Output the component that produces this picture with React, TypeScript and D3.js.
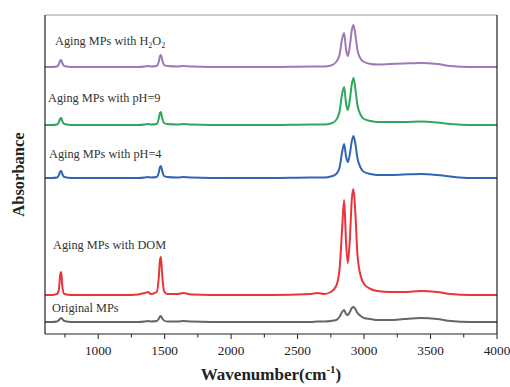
import React from 'react';
import * as d3 from 'd3';

// FTIR spectra, stacked with vertical offsets
const wavenumbers = [
  600, 650, 690, 705, 715, 722, 730, 745, 800,
  1000, 1200, 1300, 1350, 1375, 1395, 1440, 1455, 1465, 1472,
  1480, 1495, 1520, 1600, 1640, 1700,
  2000, 2300, 2600, 2650, 2700, 2750, 2790, 2815, 2835, 2850,
  2865, 2878, 2893, 2908, 2920, 2935, 2950, 2975, 3000, 3050,
  3100, 3200, 3300, 3430, 3550, 3650, 3800, 4000,
];

const originalMPs = [
  0.12, 0.12, 0.125, 0.14, 0.155, 0.16, 0.15, 0.13, 0.12,
  0.12, 0.12, 0.12, 0.125, 0.13, 0.125, 0.13, 0.15, 0.175, 0.18,
  0.16, 0.135, 0.125, 0.125, 0.13, 0.125,
  0.12, 0.12, 0.12, 0.125, 0.125, 0.13, 0.14, 0.17, 0.22, 0.24,
  0.2, 0.19, 0.22, 0.26, 0.27, 0.25, 0.21, 0.18, 0.16, 0.15,
  0.14, 0.14, 0.15, 0.16, 0.15, 0.13, 0.12, 0.12,
];

const agingDOM = [
  0.39, 0.39, 0.4, 0.45, 0.6, 0.62, 0.48, 0.4, 0.39,
  0.39, 0.39, 0.395, 0.41, 0.42, 0.4, 0.42, 0.55, 0.74, 0.77,
  0.62, 0.43, 0.4, 0.4, 0.41, 0.395,
  0.39, 0.39, 0.4, 0.41, 0.4, 0.42, 0.48, 0.64, 1.05, 1.34,
  0.9, 0.71, 0.95, 1.35, 1.45, 1.2, 0.8, 0.58, 0.5, 0.45,
  0.43, 0.42, 0.42, 0.43, 0.42, 0.4, 0.39, 0.39,
];

const agingPH4 = [
  1.56, 1.56, 1.565, 1.59, 1.625, 1.63, 1.6, 1.57, 1.56,
  1.56, 1.56, 1.56, 1.565, 1.57, 1.565, 1.57, 1.61, 1.67, 1.68,
  1.64, 1.58, 1.57, 1.565, 1.57, 1.565,
  1.56, 1.56, 1.565, 1.565, 1.565, 1.575, 1.6, 1.66, 1.82, 1.9,
  1.77, 1.72, 1.8, 1.93, 1.98, 1.9, 1.76, 1.66, 1.62, 1.6,
  1.59, 1.59, 1.595, 1.6, 1.59, 1.575, 1.56, 1.56,
];

const agingPH9 = [
  2.09, 2.09, 2.095, 2.12, 2.155, 2.16, 2.13, 2.1, 2.09,
  2.09, 2.09, 2.09, 2.095, 2.1, 2.095, 2.1, 2.15, 2.21, 2.22,
  2.17, 2.11, 2.1, 2.095, 2.1, 2.095,
  2.09, 2.09, 2.095, 2.095, 2.095, 2.105, 2.14, 2.22, 2.4, 2.47,
  2.3, 2.24, 2.34, 2.5, 2.56, 2.45, 2.29, 2.19, 2.15, 2.13,
  2.12, 2.12, 2.12, 2.125, 2.115, 2.1, 2.09, 2.09,
];

const agingH2O2 = [
  2.67, 2.67, 2.675, 2.7, 2.735, 2.74, 2.71, 2.68, 2.67,
  2.67, 2.67, 2.67, 2.675, 2.68, 2.675, 2.68, 2.72, 2.78, 2.79,
  2.75, 2.69, 2.68, 2.675, 2.68, 2.675,
  2.67, 2.67, 2.675, 2.675, 2.675, 2.685, 2.72, 2.79, 2.95, 3.01,
  2.84, 2.78, 2.88, 3.04, 3.09, 2.99, 2.84, 2.75, 2.72, 2.7,
  2.695, 2.7, 2.705, 2.71, 2.7, 2.68, 2.67, 2.67,
];

const xTicks = [1000, 1500, 2000, 2500, 3000, 3500, 4000];
const xMinorTicks = [750, 1250, 1750, 2250, 2750, 3250, 3750];

const margin = { top: 15, right: 13, bottom: 53, left: 45 };
const width = 510;
const height = 387;

export default function App() {
  const innerW = width - margin.left - margin.right;
  const innerH = height - margin.top - margin.bottom;

  const x = d3.scaleLinear().domain([600, 4000]).range([0, innerW]);
  const y = d3.scaleLinear().domain([0, 3.19]).range([innerH, 0]);

  const series = [
    { name: 'Original MPs', values: originalMPs, color: '#666666', lx: 7, ly: 0.225 },
    { name: 'Aging MPs with DOM', values: agingDOM, color: '#e8353c', lx: 8, ly: 0.85 },
    { name: 'Aging MPs with pH=4', values: agingPH4, color: '#3465b5', lx: 4, ly: 1.76 },
    { name: 'Aging MPs with pH=9', values: agingPH9, color: '#2fa75e', lx: 3, ly: 2.32 },
    { name: 'H2O2', values: agingH2O2, color: '#9d79b6', lx: 10, ly: 2.89 },
  ];

  const line = d3.line<number>()
    .x((_, i) => x(wavenumbers[i]))
    .y(d => y(d))
    .curve(d3.curveMonotoneX);

  const serif = '"Liberation Serif", "Times New Roman", serif';

  return (
    <svg width={width} height={height} style={{ position: 'absolute', left: 0, top: 0, background: '#fff' }}>
      <g transform={`translate(${margin.left},${margin.top})`}>
        {series.map(s => (
          <path key={s.name} d={line(s.values) ?? ''} fill="none" stroke={s.color}
            strokeWidth={2} strokeLinejoin="round" />
        ))}

        {series.map(s => (
          <text key={'l' + s.name} x={s.lx} y={y(s.ly)} fontFamily={serif} fontSize={12.3} fill="#333">
            {s.name === 'H2O2' ? (
              <>
                Aging MPs with H<tspan fontSize={8} dy={3}>2</tspan>
                <tspan dy={-3}>O</tspan>
                <tspan fontSize={8} dy={3}>2</tspan>
              </>
            ) : s.name}
          </text>
        ))}

        {/* frame */}
        <line x1={0} x2={innerW} y1={0} y2={0} stroke="#9a9a9a" strokeWidth={1} />
        <line x1={innerW} x2={innerW} y1={0} y2={innerH} stroke="#222" strokeWidth={1.2} />
        <line x1={0} x2={0} y1={0} y2={innerH} stroke="#222" strokeWidth={1.2} />
        <line x1={0} x2={innerW} y1={innerH} y2={innerH} stroke="#222" strokeWidth={1.2} />

        {xTicks.map(t => (
          <g key={t} transform={`translate(${x(t)},${innerH})`}>
            <line y1={0} y2={5} stroke="#222" strokeWidth={1} />
            <text y={21} textAnchor="middle" fontFamily={serif} fontSize={13.3} fill="#222">{t}</text>
          </g>
        ))}
        {xMinorTicks.map(t => (
          <line key={t} x1={x(t)} x2={x(t)} y1={innerH} y2={innerH + 3.5} stroke="#222" strokeWidth={1} />
        ))}

        <text x={innerW / 2 + 0} y={innerH + 46} textAnchor="middle" fontFamily={serif}
          fontWeight="bold" fontSize={17} fill="#222">
          Wavenumber(cm<tspan fontSize={11} dy={-7}>-1</tspan><tspan dy={7}>)</tspan>
        </text>
        <text transform={`translate(${-21},${174.5 - margin.top}) rotate(-90)`} textAnchor="middle"
          fontFamily={serif} fontWeight="bold" fontSize={16.5} fill="#222">
          Absorbance
        </text>
      </g>
    </svg>
  );
}
